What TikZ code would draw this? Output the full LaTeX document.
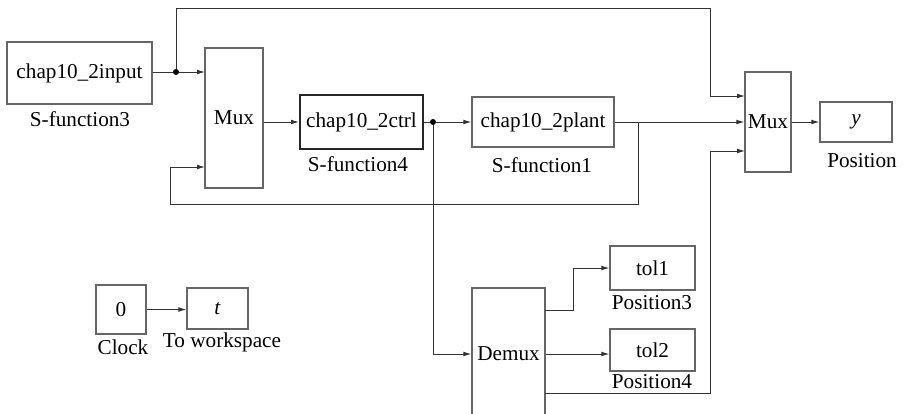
\documentclass[tikz,border=0pt]{standalone}
\usepackage{fontspec}
\setmainfont{Liberation Serif}
\usetikzlibrary{arrows.meta, positioning}

\begin{document}
\begin{tikzpicture}[x=0.5pt, y=-0.5pt,
            font=\fontsize{10.6}{12}\selectfont,
            block/.style={rectangle, draw=black!60, fill=white, line width=0.6pt, inner sep=0pt},
            lbl/.style={inner sep=0pt},
            wire/.style={draw=black!80, line width=0.5pt},
            arrow/.style={wire, -{Latex[length=4pt,width=2.4pt]}},
            dot/.style={circle, fill=black, inner sep=0pt, minimum size=3pt}
        ]

        \useasboundingbox (0,0) rectangle (904,413);
        \clip (0,0) rectangle (904,413);

        % Source and controller blocks
        \node[block, minimum width=72.5pt, minimum height=31pt] (inpt) at (79.5,73) {chap10\_2input};
        \node[block, minimum width=29pt, minimum height=70pt] (mux1) at (234,118) {Mux};
        \node[block, draw=black!85, line width=1pt, minimum width=61.5pt, minimum height=27pt] (ctrl) at (361.5,122) {chap10\_2ctrl};
        \node[block, minimum width=71pt, minimum height=25pt] (plant) at (543,122) {chap10\_2plant};
        \node[block, minimum width=23pt, minimum height=50pt] (mux2) at (768,122) {Mux};
        \node[block, minimum width=36pt, minimum height=20pt] (yout) at (856,122) {\textit{y}};

        % Demux and scopes
        \node[block, minimum width=36.5pt, minimum height=66pt] (demux) at (508.5,354) {Demux};
        \node[block, minimum width=42.5pt, minimum height=22pt] (tol1) at (652.5,268) {tol1};
        \node[block, minimum width=42.5pt, minimum height=21pt] (tol2) at (652.5,350) {tol2};

        % Clock
        \node[block, minimum width=25pt, minimum height=24.5pt] (clock) at (121,309.5) {0};
        \node[block, minimum width=30.5pt, minimum height=20.5pt] (ws) at (217.5,308.5) {\textit{t}};

        % Labels
        \node[lbl] (inptlbl) at (80,119) {S-function3};
        \node[lbl] (ctrllbl) at (358,164) {S-function4};
        \node[lbl] (plantlbl) at (542,165) {S-function1};
        \node[lbl] (youtlbl) at (862,161) {Position};
        \node[lbl] (tol1lbl) at (652,303) {Position3};
        \node[lbl] (tol2lbl) at (652,382) {Position4};
        \node[lbl] (clocklbl) at (123,347) {Clock};
        \node[lbl] (wslbl) at (222,342) {To workspace};

        % Junctions and ports
        \node[dot] (j1) at (176,72) {};
        \node[dot] (j2) at (433,122) {};
        \coordinate (b1) at (638,122);
        \coordinate (topr) at (710,8);
        \coordinate (botr) at (710,393);
        \coordinate (fbl) at (170,204);
        \coordinate (m1a) at (205,72);
        \coordinate (m1b) at (205,167);
        \coordinate (m2a) at (745,96);
        \coordinate (m2c) at (745,151);
        \coordinate (dm1) at (545,310);
        \coordinate (dm3) at (545,393);

        % Arrows
        \draw[wire] (inpt.east |- j1) -- (j1);
        \draw[arrow] (j1) -- (m1a);
        \draw[arrow] (j1) |- (topr) |- (m2a);
        \draw[arrow] (mux1.east |- ctrl.west) -- (ctrl.west);
        \draw[wire] (ctrl.east) -- (j2);
        \draw[arrow] (j2) -- (plant.west);
        \draw[arrow] (j2) |- (demux.west);
        \draw[arrow] (plant.east) -- (mux2.west);
        \draw[arrow] (b1) |- (fbl) |- (m1b);
        \draw[arrow] (mux2.east) -- (yout.west);
        \draw[arrow] (dm1) -- ++(28,0) |- (tol1.west);
        \draw[arrow] (demux.east) -- (tol2.west |- demux.east);
        \draw[arrow] (dm3) -- (botr) |- (m2c);
        \draw[arrow] (clock.east) -- (ws.west |- clock.east);

    \end{tikzpicture}
\end{document}
